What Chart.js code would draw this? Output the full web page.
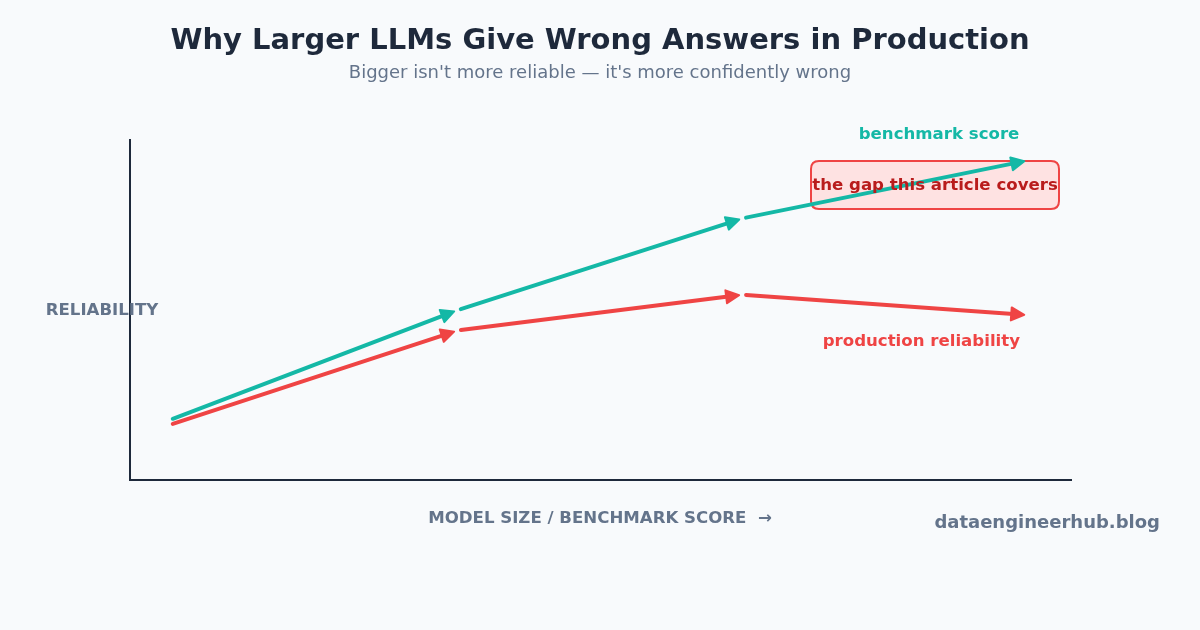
<!DOCTYPE html>
<html>
<head>
<meta charset="utf-8">
<script src="https://cdn.jsdelivr.net/npm/chart.js@4.4.0/dist/chart.umd.min.js"></script>
<style>
  html, body { margin: 0; padding: 0; background: #f8fafc; }
  #wrap { width: 1200px; height: 630px; }
</style>
</head>
<body>
<div id="wrap"><canvas id="chart" width="1200" height="630"></canvas></div>
<script>
// model size steps along the x axis
let sizeSteps = [0, 1, 2, 3];
let benchmarkScore = [18, 50, 77, 94];
let productionReliability = [16.5, 44, 54.5, 48.5];

const FONT = "'DejaVu Sans', sans-serif";
const TEAL = '#14b8a6';
const RED = '#ef4444';
const SLATE = '#64748b';
const DARK = '#1e293b';

function toPoints(ys) {
    return sizeSteps.map((x, i) => ({ x: x, y: ys[i] }));
}

function roundRect(c, x, y, w, h, r) {
    c.beginPath();
    c.moveTo(x + r, y);
    c.lineTo(x + w - r, y);
    c.quadraticCurveTo(x + w, y, x + w, y + r);
    c.lineTo(x + w, y + h - r);
    c.quadraticCurveTo(x + w, y + h, x + w - r, y + h);
    c.lineTo(x + r, y + h);
    c.quadraticCurveTo(x, y + h, x, y + h - r);
    c.lineTo(x, y + r);
    c.quadraticCurveTo(x, y, x + r, y);
    c.closePath();
}

// box behind the lines
const gapBox = {
    id: 'gapBox',
    beforeDatasetsDraw(chart) {
        const c = chart.ctx;
        c.save();
        roundRect(c, 811, 161, 248, 48, 8);
        c.fillStyle = '#fee2e2';
        c.fill();
        c.lineWidth = 2;
        c.strokeStyle = RED;
        c.stroke();
        c.restore();
    }
};

// segments with arrow heads, drawn from the dataset points
const arrows = {
    id: 'arrows',
    afterDatasetsDraw(chart) {
        const c = chart.ctx;
        chart.data.datasets.forEach((ds, di) => {
            const pts = chart.getDatasetMeta(di).data;
            c.save();
            c.strokeStyle = ds.borderColor;
            c.fillStyle = ds.borderColor;
            c.lineCap = 'round';
            c.lineJoin = 'round';
            for (let i = 0; i < pts.length - 1; i++) {
                let ax = pts[i].x, ay = pts[i].y;
                let bx = pts[i + 1].x, by = pts[i + 1].y;
                let dx = bx - ax, dy = by - ay;
                let len = Math.sqrt(dx * dx + dy * dy);
                let ux = dx / len, uy = dy / len;
                let s = i === 0 ? 0 : 3;
                let sx = ax + ux * s, sy = ay + uy * s;
                let tx = bx - ux * 4, ty = by - uy * 4;
                let head = 13, hw = 6.5;
                let hx = tx - ux * head, hy = ty - uy * head;
                c.lineWidth = 4;
                c.beginPath();
                c.moveTo(sx, sy);
                c.lineTo(hx + ux * 2, hy + uy * 2);
                c.stroke();
                c.lineWidth = 2;
                c.beginPath();
                c.moveTo(tx, ty);
                c.lineTo(hx - uy * hw, hy + ux * hw);
                c.lineTo(hx + uy * hw, hy - ux * hw);
                c.closePath();
                c.fill();
                c.stroke();
            }
            c.restore();
        });
    }
};

const texts = {
    id: 'texts',
    afterDraw(chart) {
        const c = chart.ctx;
        c.save();
        c.textAlign = 'center';
        c.textBaseline = 'middle';

        c.fillStyle = DARK;
        c.font = 'bold 29px ' + FONT;
        c.fillText('Why Larger LLMs Give Wrong Answers in Production', 600, 41);

        c.fillStyle = SLATE;
        c.font = '18px ' + FONT;
        c.fillText("Bigger isn't more reliable \u2014 it's more confidently wrong", 600, 73);

        c.font = 'bold 16.6px ' + FONT;
        c.fillText('RELIABILITY', 102, 311);
        c.fillText('MODEL SIZE / BENCHMARK SCORE  \u2192', 600, 519);

        c.font = 'bold 18px ' + FONT;
        c.textAlign = 'right';
        c.fillText('dataengineerhub.blog', 1160, 523);

        c.font = 'bold 16.6px ' + FONT;
        c.textAlign = 'center';
        c.fillStyle = TEAL;
        c.fillText('benchmark score', 939, 135);

        c.fillStyle = '#b91c1c';
        c.fillText('the gap this article covers', 935, 186);

        c.textAlign = 'right';
        c.fillStyle = RED;
        c.fillText('production reliability', 1020, 342);
        c.restore();
    }
};

const bgPlugin = {
    id: 'bg',
    beforeDraw(chart) {
        const c = chart.ctx;
        c.save();
        c.fillStyle = '#f8fafc';
        c.fillRect(0, 0, chart.width, chart.height);
        c.restore();
    }
};

new Chart(document.getElementById('chart').getContext('2d'), {
    type: 'scatter',
    data: {
        datasets: [
            {
                label: 'benchmark score',
                data: toPoints(benchmarkScore),
                borderColor: TEAL,
                backgroundColor: TEAL,
                showLine: false,
                pointRadius: 0
            },
            {
                label: 'production reliability',
                data: toPoints(productionReliability),
                borderColor: RED,
                backgroundColor: RED,
                showLine: false,
                pointRadius: 0
            }
        ]
    },
    options: {
        responsive: false,
        animation: false,
        devicePixelRatio: 1,
        layout: { padding: { left: 130, right: 129, top: 140, bottom: 150 } },
        plugins: {
            legend: { display: false },
            tooltip: { enabled: false }
        },
        scales: {
            x: {
                type: 'linear',
                min: -0.15,
                max: 3.15,
                ticks: { display: false },
                grid: { display: false, drawTicks: false },
                border: { display: true, color: DARK, width: 2 }
            },
            y: {
                min: 0,
                max: 100,
                ticks: { display: false },
                grid: { display: false, drawTicks: false },
                border: { display: true, color: DARK, width: 2 }
            }
        }
    },
    plugins: [bgPlugin, gapBox, arrows, texts]
});
</script>
</body>
</html>
